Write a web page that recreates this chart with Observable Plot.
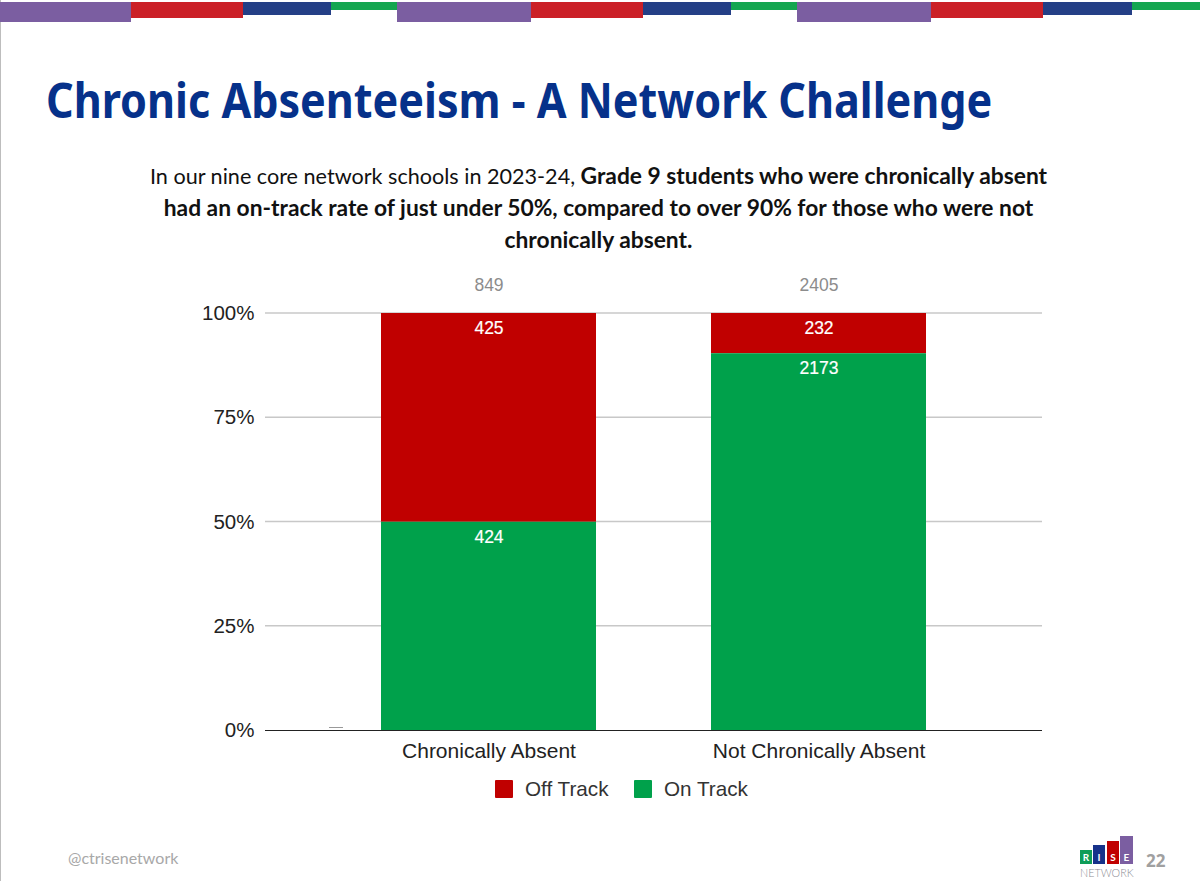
<!DOCTYPE html>
<html lang="en">
<head>
<meta charset="utf-8">
<title>Chronic Absenteeism - A Network Challenge</title>
<script src="https://cdn.jsdelivr.net/npm/d3@7"></script>
<script src="https://cdn.jsdelivr.net/npm/@observablehq/plot@0.6"></script>
<style>
  html,body{margin:0;padding:0;background:#fff;}
  #page{position:relative;width:1200px;height:881px;overflow:hidden;background:#fff;}
  #page>*{position:absolute;}
  #edge{left:0;top:0;width:1px;height:881px;background:#bdbdbd;}
  .stripe{top:2px;}
  h1{margin:0;left:46px;top:68px;font:700 48px/64px "Noto Sans",sans-serif;color:#06318a;white-space:nowrap;transform:scaleX(0.898);transform-origin:left center;}
  #sub{left:100px;top:159px;width:997px;text-align:center;font:400 21.6px/32px Lato,sans-serif;color:#111;}
  #sub b{font-weight:700;font-size:22.8px;}
  #sub span{display:block;white-space:nowrap;height:32px;}
  #plot{left:0;top:270px;}
  #artifact{left:329px;top:727px;width:14px;height:1px;background:#999;}
  .lg-box{top:780px;width:18px;height:18px;border-radius:1px;}
  .lg-text{top:776px;font:20.7px/26px "Liberation Sans",Arial,sans-serif;color:#333;white-space:nowrap;}
  #handle{left:68px;top:848px;font:16px/20px Lato,sans-serif;color:#a8a8a8;}
  #pageno{left:1146px;top:850px;font:700 17px/22px "Open Sans",sans-serif;color:#a0a0a0;}
  #net{left:1080px;top:866px;font:300 10.8px/14px Lato,sans-serif;color:#8c8c94;}
  .lg{color:#fff;font:700 10px/15px Lato,sans-serif;text-align:center;}
</style>
</head>
<body>
<div id="page"></div>
<script>
const categories = ["Chronically Absent", "Not Chronically Absent"];
const statuses = ["Off Track", "On Track"];
const offTrack = [425, 232];
const onTrack = [424, 2173];
const totals = [849, 2405];
const percentTicks = [0, 0.25, 0.5, 0.75, 1];
const statusColors = ["#c00000", "#00a14b"];

const rows = categories.flatMap((c, i) => [
  {category: c, status: statuses[0], count: offTrack[i]},
  {category: c, status: statuses[1], count: onTrack[i]}
]);
const totalRows = categories.map((c, i) => ({category: c, total: totals[i]}));

const page = document.getElementById("page");
function add(tag, props, parent = page) {
  const el = document.createElement(tag);
  Object.assign(el, props);
  parent.appendChild(el);
  return el;
}
add("div", {id: "edge"});

// header ribbon
const ribbon = [["#7b5ea1", 22], ["#cb2027", 18], ["#243f86", 15], ["#14a650", 10]];
[[0, 131, 243, 331], [397, 531, 643, 731], [797, 931, 1043, 1132]].forEach((starts, k, all) => {
  starts.forEach((x, i) => {
    const end = i < 3 ? starts[i + 1] : (k < 2 ? all[k + 1][0] : 1200);
    const s = add("div", {className: "stripe"});
    s.style.cssText = `left:${x}px;width:${end - x}px;height:${ribbon[i][1] - 2}px;background:${ribbon[i][0]}`;
  });
});

add("h1", {textContent: "Chronic Absenteeism - A Network Challenge"});
add("div", {id: "sub", innerHTML:
  `<span>In our nine core network schools in 2023-24, <b>Grade 9 students who were chronically absent</b></span>` +
  `<span><b>had an on-track rate of just under 50%, compared to over 90% for those who were not</b></span>` +
  `<span><b>chronically absent.</b></span>`});

const stackOpts = {x: "category", y: "count", z: "status", order: statuses.slice().reverse(), offset: "normalize"};
const chart = Plot.plot({
  width: 1200,
  height: 540,
  marginTop: 43,
  marginBottom: 80,
  marginLeft: 265,
  marginRight: 158,
  style: {background: "transparent", fontFamily: '"Liberation Sans", Arial, sans-serif'},
  x: {domain: categories, range: [323.5, 983.5], paddingInner: 0.348, paddingOuter: 0.174, label: null},
  y: {domain: [0, 1], label: null},
  color: {domain: statuses, range: statusColors},
  marks: [
    Plot.ruleY(percentTicks.slice(1), {stroke: "#c8c8c8", strokeWidth: 1.4, strokeOpacity: 1, dy: -0.5}),
    Plot.barY(rows, Plot.stackY({...stackOpts, fill: "status"})),
    Plot.ruleY([0], {stroke: "#222", strokeWidth: 1.2}),
    Plot.text(rows, Plot.stackY2({...stackOpts, text: d => String(d.count), fill: "#fff", dy: 15, fontSize: 17.5, stroke: "#fff", strokeWidth: 0.2})),
    Plot.text(totalRows, {x: "category", y: () => 1, text: d => String(d.total), dy: -28, fill: "#8c8c8c", fontSize: 17.5}),
    Plot.axisY({ticks: percentTicks, tickFormat: d3.format(".0%"), tickSize: 0, tickPadding: 11, fontSize: 20.5, color: "#222", label: null}),
    Plot.axisX({tickSize: 0, tickPadding: 13, fontSize: 21, color: "#222", label: null})
  ]
});
chart.id = "plot";
page.appendChild(chart);

add("div", {id: "artifact"});

// legend
[[495, 525], [634, 664]].forEach(([bx, tx], i) => {
  const b = add("div", {className: "lg-box"});
  b.style.left = bx + "px"; b.style.background = statusColors[i];
  const t = add("div", {className: "lg-text", textContent: statuses[i]});
  t.style.left = tx + "px";
});

add("div", {id: "handle", textContent: "@ctrisenetwork"});
add("div", {id: "pageno", textContent: "22"});
add("div", {id: "net", textContent: "NETWORK"});
// logo blocks
[["R", 1080, 850, 12, 14, "#0f9d58"], ["I", 1093, 845, 12, 19, "#17328a"], ["S", 1107, 841, 12, 23, "#c00000"], ["E", 1120, 836, 13, 28, "#7b5ea1"]]
  .forEach(([ch, x, y, w, h, c]) => {
    const d = add("div", {className: "lg", textContent: ch});
    d.style.cssText = `left:${x}px;top:${y}px;width:${w}px;height:${h}px;background:${c};line-height:${2 * h - 14}px;`;
  });
</script>
</body>
</html>
